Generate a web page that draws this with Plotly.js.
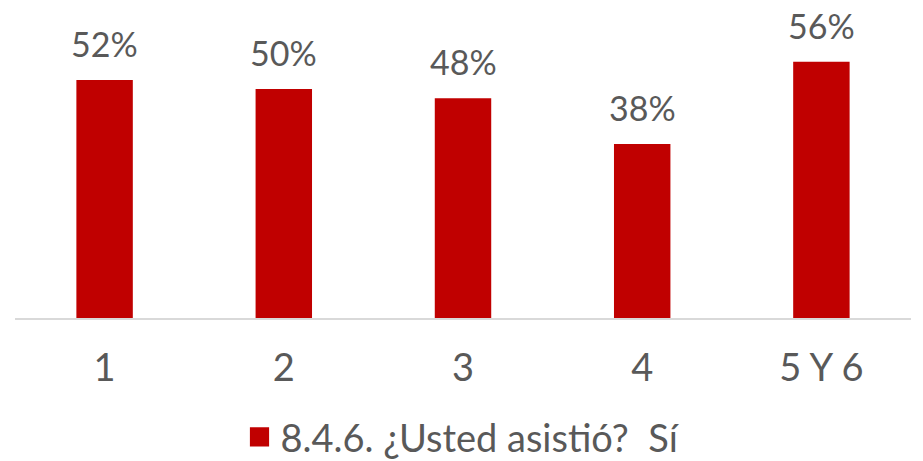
<!DOCTYPE html>
<html>
<head>
<meta charset="utf-8">
<script src="https://cdn.plot.ly/plotly-3.0.1.min.js"></script>
<style>html,body{margin:0;padding:0;background:#fff;}#chart{width:923px;height:461px;}</style>
</head>
<body>
<div id="chart"></div>
<script>
var categories = ["1", "2", "3", "4", "5 Y 6"];
var values = [0.52, 0.50, 0.48, 0.38, 0.56];
var seriesName = "8.4.6. ¿Usted asistió?  Sí";
var labels = values.map(function(v){ return Math.round(v*100) + "%"; });

var FONT = "Lato, 'Open Sans', sans-serif";
var trace = {
  type: "bar",
  x: categories,
  y: values,
  name: seriesName,
  marker: {color: "#C00000"},
  showlegend: true,
  hoverinfo: "skip"
};
var annotations = categories.map(function(c, i){
  return {x: i, y: values[i], xref: "x", yref: "y", text: labels[i],
          showarrow: false, yanchor: "bottom", yshift: 14,
          font: {family: FONT, size: 34, color: "#595959"}};
});
var layout = {
  width: 923, height: 461,
  margin: {l: 15, r: 12, t: 20, b: 143, autoexpand: false},
  paper_bgcolor: "#ffffff",
  plot_bgcolor: "#ffffff",
  bargap: 0.685,
  showlegend: true,
  annotations: annotations,
  legend: {orientation: "h", x: 0.5, xanchor: "center", y: -0.40, yanchor: "middle",
           font: {family: FONT, size: 38, color: "#595959"}},
  xaxis: {
    type: "category",
    showline: true, linecolor: "#d9d9d9", linewidth: 1.5,
    ticks: "", showgrid: false, zeroline: false,
    tickfont: {family: FONT, size: 38, color: "#595959"},
    ticklabelstandoff: 16
  },
  yaxis: {
    range: [0, 0.651], visible: false, showgrid: false, zeroline: false
  }
};
Plotly.newPlot("chart", [trace], layout, {displayModeBar: false, staticPlot: true}).then(function(gd){
  var pts = gd.querySelectorAll(".legend .legendpoints path");
  pts.forEach(function(p){ p.setAttribute("transform", "translate(19,0) scale(1.6)"); });
});
</script>
</body>
</html>
